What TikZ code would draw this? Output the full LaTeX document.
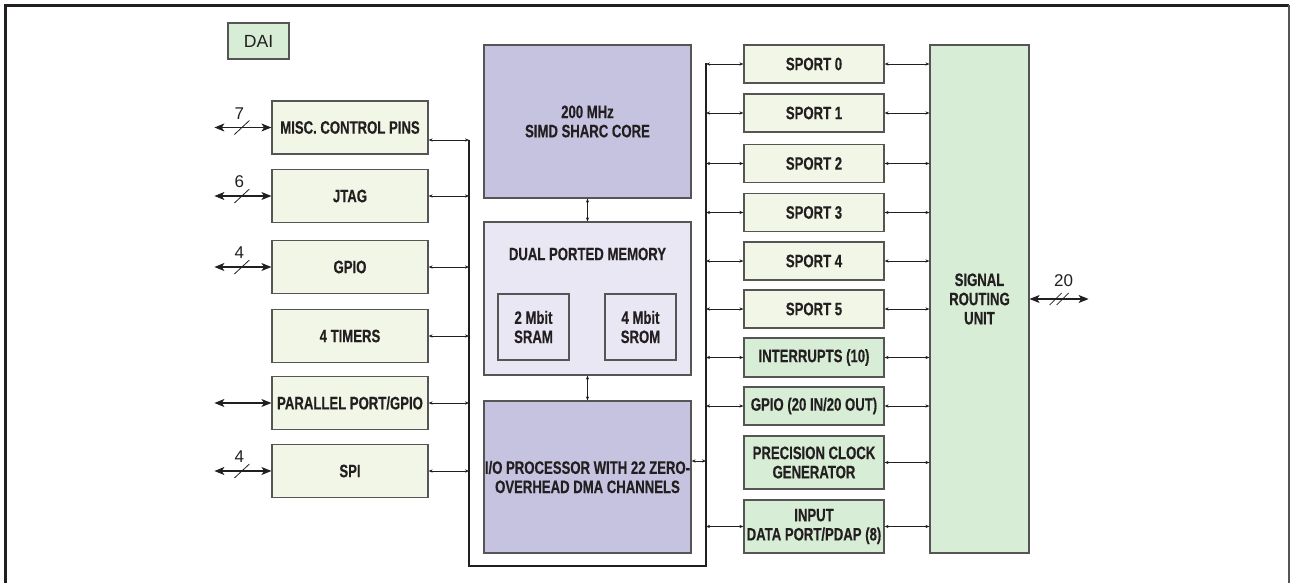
\documentclass[tikz,border=0pt]{standalone}
\usepackage{fontspec}
\setmainfont{Liberation Sans}
\newfontfamily\condfont[FakeStretch=0.73, BoldFeatures={FakeBold=0.4}]{Liberation Sans}
\usetikzlibrary{arrows.meta}

\definecolor{paleblk}{RGB}{241,246,230}
\definecolor{greenblk}{RGB}{216,237,213}
\definecolor{coreblk}{RGB}{198,195,224}
\definecolor{memblk}{RGB}{233,231,244}
\definecolor{edgegray}{RGB}{85,85,85}
\definecolor{ink}{RGB}{35,31,32}

\begin{document}
\begin{tikzpicture}[x=0.5pt, y=-0.5pt,
    blk/.style 2 args={draw=edgegray, line width=0.6pt, fill=paleblk, text=ink,
        align=center, inner sep=0pt, minimum width=#1*0.5pt, minimum height=#2*0.5pt,
        font=\condfont\bfseries\fontsize{9}{9.6}\selectfont},
    busline/.style={draw=ink, line width=0.7pt},
    tap/.style={draw=ink, line width=0.45pt, {Stealth[length=2pt,width=1.6pt]}-{Stealth[length=2pt,width=1.6pt]}},
    ext/.style={draw=ink, line width=0.55pt, {Stealth[length=5pt,width=4pt,inset=1.3pt]}-{Stealth[length=5pt,width=4pt,inset=1.3pt]}},
    slash/.style={draw=ink, line width=0.4pt},
    numlbl/.style={text=ink, inner sep=0pt, font=\fontsize{8.5}{9}\selectfont}]
    \useasboundingbox (0,0) rectangle (1290,583);
    % Frame
    \draw[ink, line width=1.5pt] (5.5,620) -- (5.5,5.5) -- (1289,5.5);
    \draw[edgegray, line width=0.6pt] (1289,5.5) -- (1289,620);

    \node[blk={61}{36}, fill=greenblk, font=\fontsize{8.8}{10}\selectfont] (dai) at (258.5,41) {DAI};

    % Peripherals on the left
    \foreach \n/\y/\t in {misc/127.5/MISC. CONTROL PINS, jtag/196/JTAG, gpio/267/GPIO,
        timers/336/4 TIMERS, ppgpio/403/{PARALLEL PORT/GPIO}, spi/471/SPI}
        \node[blk={156}{53}] (\n) at (350,\y) {\t};

    % Core, memory and I/O processor
    \node[blk={207}{153}, fill=coreblk] (core) at (587.5,121.5) {200 MHz\\SIMD SHARC CORE};
    \node[blk={207}{153}, fill=memblk] (mem) at (587.5,298.5) {};
    \node[blk={207}{10}, draw=none, fill=none] (memlbl) at (587.5,254) {DUAL PORTED MEMORY};
    \node[blk={71}{66}, fill=memblk] (sram) at (533.5,327) {2 Mbit\\SRAM};
    \node[blk={71}{66}, fill=memblk] (srom) at (640.5,327) {4 Mbit\\SROM};
    \node[blk={207}{152}, fill=coreblk] (iop) at (587.5,477) {I/O PROCESSOR WITH 22 ZERO-\\OVERHEAD DMA CHANNELS};
    \draw[tap] (core) -- (mem);
    \draw[tap] (mem) -- (iop);

    % DAI peripherals
    \foreach \i/\y in {0/64, 1/113, 2/163.5, 3/212.5, 4/261, 5/309}
        \node[blk={140}{38}] (sp\i) at (814,\y) {SPORT \i};
    \node[blk={140}{39}, fill=greenblk] (irq) at (814,357.5) {INTERRUPTS (10)};
    \node[blk={140}{38}, fill=greenblk] (gpiodai) at (814,406) {GPIO (20 IN/20 OUT)};
    \node[blk={140}{53}, fill=greenblk] (pcg) at (814,462.5) {PRECISION CLOCK\\GENERATOR};
    \node[blk={140}{53}, fill=greenblk] (pdap) at (814,526.5) {INPUT\\DATA PORT/PDAP (8)};
    \node[blk={99}{508}, fill=greenblk] (sru) at (979.5,299) {SIGNAL\\ROUTING\\UNIT};

    % Internal bus
    \coordinate (lbus) at (469,140);
    \coordinate (lbusend) at (469,566);
    \coordinate (rbusend) at (706,566);
    \coordinate (rbus) at (706,63);
    \draw[busline] (lbus) -- (lbusend) -- (rbusend) -- (rbus);
    \draw[tap] ([yshift=-6.25pt]misc.east) -- (lbus);
    \foreach \n in {jtag, gpio, timers, ppgpio, spi}
        \draw[tap] (\n.east) -- (\n.east -| lbus);
    \foreach \n in {sp0, sp1, sp2, sp3, sp4, sp5, irq, gpiodai, pdap}
        \draw[tap] (\n.west) -- (\n.west -| rbus);
    \draw[tap] ([yshift=8pt]iop.east) -- ([yshift=8pt]iop.east -| rbus);
    \foreach \n in {sp0, sp1, sp2, sp3, sp4, sp5, irq, gpiodai, pcg, pdap}
        \draw[tap] (\n.east) -- (\n.east -| sru.west);

    % Pins
    \foreach \n/\w in {misc/7, jtag/6, gpio/4, spi/4} {
        \draw[ext] (\n.west) -- ++(-57,0);
        \draw[slash] ([xshift=-14.75pt]\n.west) ++(-7.5,7) -- ++(15,-14);
        \node[numlbl] (w\n) at ([xshift=-16pt,yshift=7pt]\n.west) {\w};
    }
    \draw[ext] (ppgpio.west) -- ++(-57,0);
    \draw[ext] (sru.east) -- ++(59,0);
    \foreach \dx in {0,7}
        \draw[slash] ([xshift=10pt]sru.east) ++(\dx,6) -- ++(12,-12);
    \node[numlbl] (wsru) at ([xshift=17pt,yshift=9pt]sru.east) {20};
\end{tikzpicture}
\end{document}
